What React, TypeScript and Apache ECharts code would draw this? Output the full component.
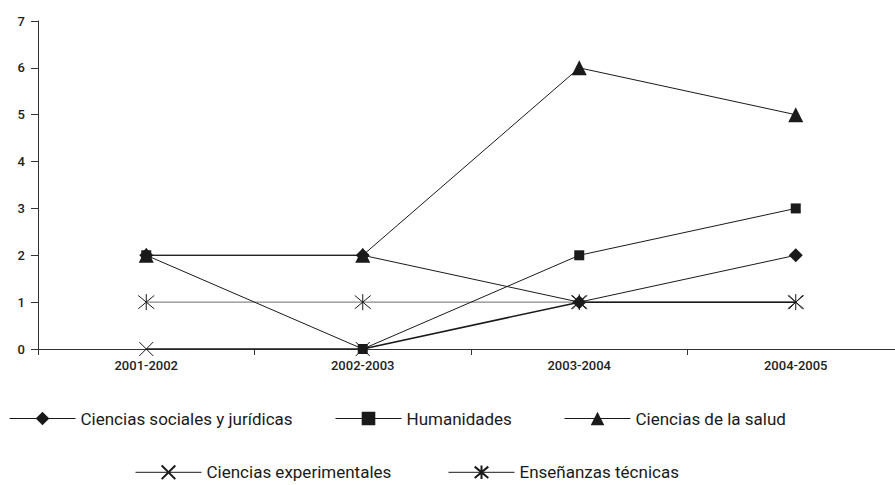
import React, { useEffect, useRef } from "react";
import * as echarts from "echarts";

const categories = ["2001-2002", "2002-2003", "2003-2004", "2004-2005"];
const sociales = [2, 2, 1, 2];
const humanidades = [2, 0, 2, 3];
const salud = [2, 2, 6, 5];
const experimentales = [0, 0, 1, 1];
const tecnicas = [1, 1, 1, 1];
const yTicks = [0, 1, 2, 3, 4, 5, 6, 7];

const FONT = "Roboto";
const X_PATH = "path://M0,0L10,10M10,0L0,10";
const AST_PATH = "path://M0,0L10,10M10,0L0,10M5,-1L5,11";

export default function App() {
  const ref = useRef<HTMLDivElement>(null);
  useEffect(() => {
    if (!ref.current) return;
    const chart = echarts.init(ref.current, null, { renderer: "svg" });
    const lineBase = { color: "#1a1a1a", width: 1 };
    const legendCommon = {
      itemWidth: 66,
      itemHeight: 17,
      textStyle: { fontFamily: FONT, fontSize: 17, color: "#1a1a1a" },
      selectedMode: false,
      orient: "horizontal",
      padding: 0,
      lineStyle: { color: "#1a1a1a", width: 1 },
    };
    chart.setOption({
      animation: false,
      backgroundColor: "#fff",
      grid: { left: 38, top: 21, width: 866, height: 328, containLabel: false },
      legend: [
        { ...legendCommon, data: ["Ciencias sociales y jurídicas"], left: 9, top: 410 },
        { ...legendCommon, data: ["Humanidades"], left: 335, top: 410 },
        { ...legendCommon, data: ["Ciencias de la salud"], left: 564, top: 410 },
        { ...legendCommon, data: ["Ciencias experimentales"], left: 135, top: 463 },
        { ...legendCommon, data: ["Enseñanzas técnicas"], left: 448, top: 463 },
      ],
      xAxis: {
        type: "category",
        data: categories,
        boundaryGap: true,
        axisLine: { lineStyle: { color: "#333", width: 1 } },
        axisTick: { show: true, length: 6, lineStyle: { color: "#333" } },
        axisLabel: {
          fontFamily: FONT,
          fontSize: 13,
          fontWeight: 500,
          color: "#222",
          margin: 10,
        },
        splitLine: { show: false },
      },
      yAxis: {
        type: "value",
        min: 0,
        max: 7,
        interval: 1,
        axisLine: { show: true, lineStyle: { color: "#333", width: 1 } },
        axisTick: { show: true, length: 7, lineStyle: { color: "#333" } },
        axisLabel: {
          fontFamily: FONT,
          fontSize: 13,
          fontWeight: 500,
          color: "#222",
          margin: 13,
          formatter: (v: number) => (yTicks.includes(v) ? String(v) : ""),
        },
        splitLine: { show: false },
      },
      series: [
        {
          name: "Enseñanzas técnicas",
          type: "line",
          data: tecnicas,
          z: 2,
          symbol: AST_PATH,
          symbolSize: 16,
          lineStyle: { color: "#8a8a8a", width: 1.3 },
          itemStyle: { color: "none", borderColor: "#1a1a1a", borderWidth: 1 },
        },
        {
          name: "Ciencias experimentales",
          type: "line",
          data: experimentales,
          z: 2,
          symbol: X_PATH,
          symbolSize: 14,
          lineStyle: { color: "#1a1a1a", width: 1.5 },
          itemStyle: { color: "none", borderColor: "#1a1a1a", borderWidth: 1 },
        },
        {
          name: "Ciencias sociales y jurídicas",
          type: "line",
          data: sociales,
          z: 3,
          symbol: "diamond",
          symbolSize: 14,
          lineStyle: { ...lineBase },
          itemStyle: { color: "#1a1a1a" },
        },
        {
          name: "Humanidades",
          type: "line",
          data: humanidades,
          z: 4,
          symbol: "rect",
          symbolSize: 10,
          lineStyle: { ...lineBase },
          itemStyle: { color: "#1a1a1a" },
        },
        {
          name: "Ciencias de la salud",
          type: "line",
          data: salud,
          z: 5,
          symbol: "triangle",
          symbolSize: 15,
          lineStyle: { ...lineBase },
          itemStyle: { color: "#1a1a1a" },
        },
      ],
    });
    return () => chart.dispose();
  }, []);
  return (
    <div
      style={{
        position: "fixed",
        left: 0,
        top: 0,
        width: 895,
        height: 485,
        overflow: "hidden",
        background: "#fff",
      }}
    >
      <div ref={ref} style={{ width: 910, height: 485 }} />
    </div>
  );
}
